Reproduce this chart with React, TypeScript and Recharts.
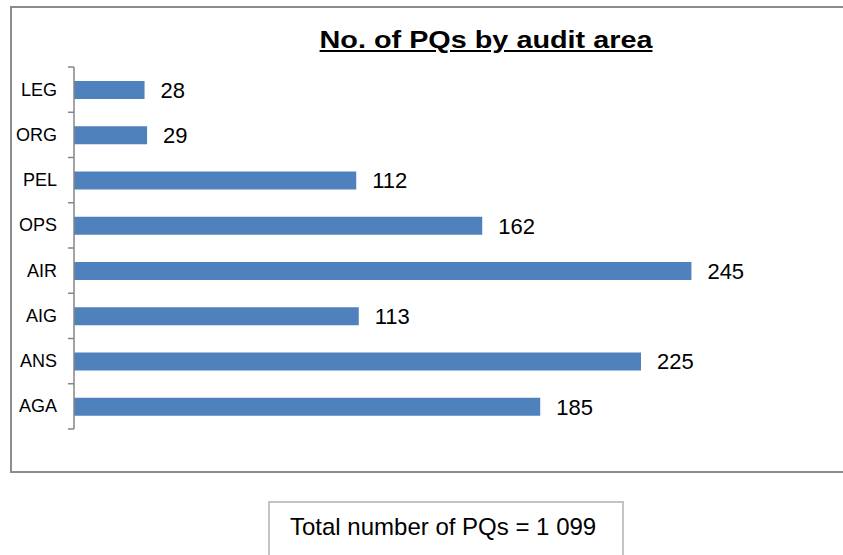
import React from "react";
import { BarChart, Bar, XAxis, YAxis, LabelList } from "recharts";

// audit areas, top to bottom
const categories = ["LEG", "ORG", "PEL", "OPS", "AIR", "AIG", "ANS", "AGA"];
const pqCounts = [28, 29, 112, 162, 245, 113, 225, 185];
const chartTitle = "No. of PQs by audit area";
const totalLabel = "Total number of PQs = 1 099";

const data = categories.map((name, i) => ({ name, value: pqCounts[i] }));

const FONT = '"Liberation Sans", Arial, sans-serif';
const MARGIN = { top: 67, right: 13, bottom: 126, left: 0 };
const CHART_H = 555;
const BAND = (CHART_H - MARGIN.top - MARGIN.bottom) / categories.length;

// category label plus Excel-style tick marks on the band boundaries
const CategoryTick = (props: any) => {
  const { x, y, payload, index } = props;
  const last = index === categories.length - 1;
  return (
    <g>
      <line x1={x - 6} x2={x} y1={y - BAND / 2} y2={y - BAND / 2} stroke="#868686" strokeWidth={1.5} />
      {last && (
        <line x1={x - 6} x2={x} y1={y + BAND / 2} y2={y + BAND / 2} stroke="#868686" strokeWidth={1.5} />
      )}
      <text x={x - 17} y={y} dy={6} textAnchor="end" fontSize={18} fontFamily={FONT} fill="#000">
        {payload.value}
      </text>
    </g>
  );
};

export default function App() {
  return (
    <div
      style={{
        position: "fixed",
        left: 0,
        top: 0,
        width: 843,
        height: 555,
        overflow: "hidden",
        background: "#fff",
        fontFamily: FONT,
      }}
    >
      {/* chart frame: top, left and bottom edges only, the right one is off the page */}
      <div
        style={{
          position: "absolute",
          left: 10,
          top: 6,
          width: 833,
          height: 467,
          borderTop: "2px solid #8c8c8c",
          borderLeft: "2px solid #8c8c8c",
          borderBottom: "2px solid #8c8c8c",
          boxSizing: "border-box",
        }}
      />

      <div
        style={{
          position: "absolute",
          left: 486,
          top: 28,
          fontSize: 24,
          lineHeight: "24px",
          fontWeight: "bold",
          textDecoration: "underline",
          whiteSpace: "nowrap",
          transform: "translateX(-50%) scaleX(1.2)",
          color: "#000",
        }}
      >
        {chartTitle}
      </div>

      <div style={{ position: "absolute", left: 0, top: 0 }}>
        <BarChart width={843} height={CHART_H} data={data} layout="vertical" margin={MARGIN}>
          <XAxis type="number" domain={[0, 300]} hide />
          <YAxis
            type="category"
            dataKey="name"
            width={74}
            tickSize={0}
            tickMargin={0}
            tickLine={false}
            axisLine={{ stroke: "#868686", strokeWidth: 1.5 }}
            tick={<CategoryTick />}
            interval={0}
          />
          <Bar dataKey="value" fill="#4F81BD" barSize={18} isAnimationActive={false}>
            <LabelList
              dataKey="value"
              position="right"
              offset={16}
              fontSize={22}
              fontFamily={FONT}
              fill="#000"
            />
          </Bar>
        </BarChart>
      </div>

      {/* total box, bottom edge runs off the page */}
      <div
        style={{
          position: "absolute",
          left: 268,
          top: 501,
          width: 356,
          height: 90,
          border: "2px solid #c3c3c3",
          boxSizing: "border-box",
        }}
      />
      <div
        style={{
          position: "absolute",
          left: 290,
          top: 515,
          fontSize: 24,
          lineHeight: "24px",
          whiteSpace: "nowrap",
          color: "#000",
        }}
      >
        {totalLabel}
      </div>
    </div>
  );
}
